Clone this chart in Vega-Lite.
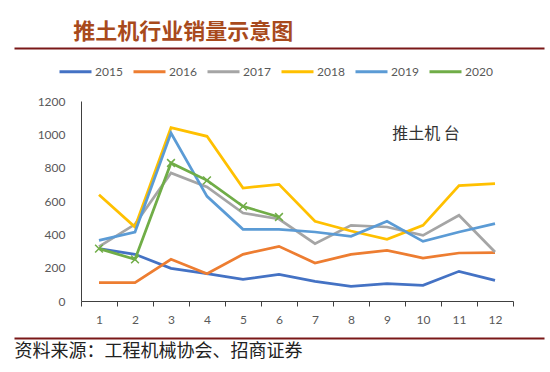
{
  "$schema": "https://vega.github.io/schema/vega-lite/v6.json",
  "background": "white",
  "padding": {"left": 11, "top": 21, "right": 9, "bottom": 8},
  "width": 530,
  "height": 200,
  "title": {"text": "推土机行业销量示意图", "anchor": "start", "frame": "bounds", "dx": 62, "offset": 4, "fontSize": 22, "font": "Noto Sans CJK SC", "fontWeight": "bold", "color": "#A84A1C"},
  "config": {"view": {"stroke": null}},
  "resolve": {"scale": {"x": "independent"}, "axis": {"x": "independent"}},
  "layer": [
    {
      "encoding": {
        "x": {"field": "month", "type": "ordinal", "bandPosition": 0.5,
          "scale": {"type": "band", "paddingInner": 0, "paddingOuter": 0, "range": [67, 499], "domain": [1,2,3,4,5,6,7,8,9,10,11,12]},
          "axis": {"title": null, "labelAngle": 0, "tickBand": "extent", "tickSize": 5, "tickColor": "#404040", "domainColor": "#404040", "labelColor": "#595959", "labelFont": "Lato", "labelFontSize": 12, "labelPadding": 8, "grid": false}},
        "y": {"field": "sales", "type": "quantitative",
          "scale": {"domain": [0, 1200]},
          "axis": {"title": null, "offset": -67, "values": [0,200,400,600,800,1000,1200], "tickCount": 7, "format": "d", "labelOverlap": false, "ticks": false, "grid": false, "labelPadding": 16, "domainColor": "#404040", "labelColor": "#595959", "labelFont": "Lato", "labelFontSize": 12}}
      },
      "layer": [
        {
          "data": {"values": [
            {"year": "2015", "month": 1, "sales": 314}, {"year": "2015", "month": 2, "sales": 280}, {"year": "2015", "month": 3, "sales": 196}, {"year": "2015", "month": 4, "sales": 164}, {"year": "2015", "month": 5, "sales": 130}, {"year": "2015", "month": 6, "sales": 160}, {"year": "2015", "month": 7, "sales": 118}, {"year": "2015", "month": 8, "sales": 88}, {"year": "2015", "month": 9, "sales": 104}, {"year": "2015", "month": 10, "sales": 94}, {"year": "2015", "month": 11, "sales": 178}, {"year": "2015", "month": 12, "sales": 124},
            {"year": "2016", "month": 1, "sales": 110}, {"year": "2016", "month": 2, "sales": 110}, {"year": "2016", "month": 3, "sales": 250}, {"year": "2016", "month": 4, "sales": 164}, {"year": "2016", "month": 5, "sales": 280}, {"year": "2016", "month": 6, "sales": 328}, {"year": "2016", "month": 7, "sales": 228}, {"year": "2016", "month": 8, "sales": 280}, {"year": "2016", "month": 9, "sales": 304}, {"year": "2016", "month": 10, "sales": 258}, {"year": "2016", "month": 11, "sales": 288}, {"year": "2016", "month": 12, "sales": 290},
            {"year": "2017", "month": 1, "sales": 326}, {"year": "2017", "month": 2, "sales": 460}, {"year": "2017", "month": 3, "sales": 768}, {"year": "2017", "month": 4, "sales": 684}, {"year": "2017", "month": 5, "sales": 528}, {"year": "2017", "month": 6, "sales": 492}, {"year": "2017", "month": 7, "sales": 344}, {"year": "2017", "month": 8, "sales": 454}, {"year": "2017", "month": 9, "sales": 444}, {"year": "2017", "month": 10, "sales": 394}, {"year": "2017", "month": 11, "sales": 514}, {"year": "2017", "month": 12, "sales": 294},
            {"year": "2018", "month": 1, "sales": 638}, {"year": "2018", "month": 2, "sales": 444}, {"year": "2018", "month": 3, "sales": 1040}, {"year": "2018", "month": 4, "sales": 988}, {"year": "2018", "month": 5, "sales": 678}, {"year": "2018", "month": 6, "sales": 700}, {"year": "2018", "month": 7, "sales": 478}, {"year": "2018", "month": 8, "sales": 420}, {"year": "2018", "month": 9, "sales": 370}, {"year": "2018", "month": 10, "sales": 454}, {"year": "2018", "month": 11, "sales": 692}, {"year": "2018", "month": 12, "sales": 704},
            {"year": "2019", "month": 1, "sales": 364}, {"year": "2019", "month": 2, "sales": 414}, {"year": "2019", "month": 3, "sales": 1008}, {"year": "2019", "month": 4, "sales": 628}, {"year": "2019", "month": 5, "sales": 430}, {"year": "2019", "month": 6, "sales": 430}, {"year": "2019", "month": 7, "sales": 414}, {"year": "2019", "month": 8, "sales": 388}, {"year": "2019", "month": 9, "sales": 478}, {"year": "2019", "month": 10, "sales": 358}, {"year": "2019", "month": 11, "sales": 414}, {"year": "2019", "month": 12, "sales": 464},
            {"year": "2020", "month": 1, "sales": 314}, {"year": "2020", "month": 2, "sales": 250}, {"year": "2020", "month": 3, "sales": 828}, {"year": "2020", "month": 4, "sales": 724}, {"year": "2020", "month": 5, "sales": 568}, {"year": "2020", "month": 6, "sales": 504}
          ]},
          "layer": [
            {
              "mark": {"type": "line", "strokeWidth": 2.75},
              "encoding": {
                "color": {"field": "year", "type": "nominal",
                  "scale": {"domain": ["2015","2016","2017","2018","2019","2020"], "range": ["#4472C4","#ED7D31","#A5A5A5","#FFC000","#5B9BD5","#70AD47"]},
                  "legend": {"title": null, "orient": "none", "legendX": 41, "legendY": -50, "padding": 3, "direction": "horizontal", "columns": 6, "symbolType": "stroke", "symbolSize": 1024, "symbolStrokeWidth": 3, "labelOffset": 2, "columnPadding": 4, "labelColor": "#595959", "labelFont": "Lato", "labelFontSize": 12}}
              }
            },
            {
              "transform": [{"filter": "datum.year === '2020'"}],
              "mark": {"type": "point", "shape": "M-1,-1L1,1M-1,1L1,-1", "filled": false, "size": 60, "strokeWidth": 1.5, "color": "#70AD47", "opacity": 1}
            }
          ]
        },
        {
          "data": {"values": [{"month": 10, "sales": 1000, "label": "推土机 台"}]},
          "mark": {"type": "text", "font": "Noto Sans CJK SC", "fontSize": 16, "color": "#333333", "dx": 3, "baseline": "middle"},
          "encoding": {"text": {"field": "label"}}
        }
      ]
    },
    {
      "data": {"values": [{"edge": 0}, {"edge": 1}]},
      "mark": {"type": "point", "opacity": 0},
      "encoding": {
        "x": {"field": "edge", "type": "quantitative", "scale": {"domain": [0, 1]},
          "axis": {"orient": "top", "offset": 53, "title": null, "labels": false, "ticks": false, "grid": false, "domainColor": "#7A1818", "domainWidth": 2}}
      }
    },
    {
      "data": {"values": [{"edge": 0}, {"edge": 1}]},
      "mark": {"type": "point", "opacity": 0},
      "encoding": {
        "x": {"field": "edge", "type": "quantitative", "scale": {"domain": [0, 1]},
          "axis": {"orient": "bottom", "offset": 37, "labels": false, "ticks": false, "grid": false, "domainColor": "#7A1818", "domainWidth": 2,
            "title": "资料来源：工程机械协会、招商证券", "titleAnchor": "start", "titleAlign": "left", "titlePadding": 4, "titleFontSize": 18, "titleFont": "Noto Sans CJK SC", "titleFontWeight": "normal", "titleColor": "#222222"}}
      }
    }
  ]
}
